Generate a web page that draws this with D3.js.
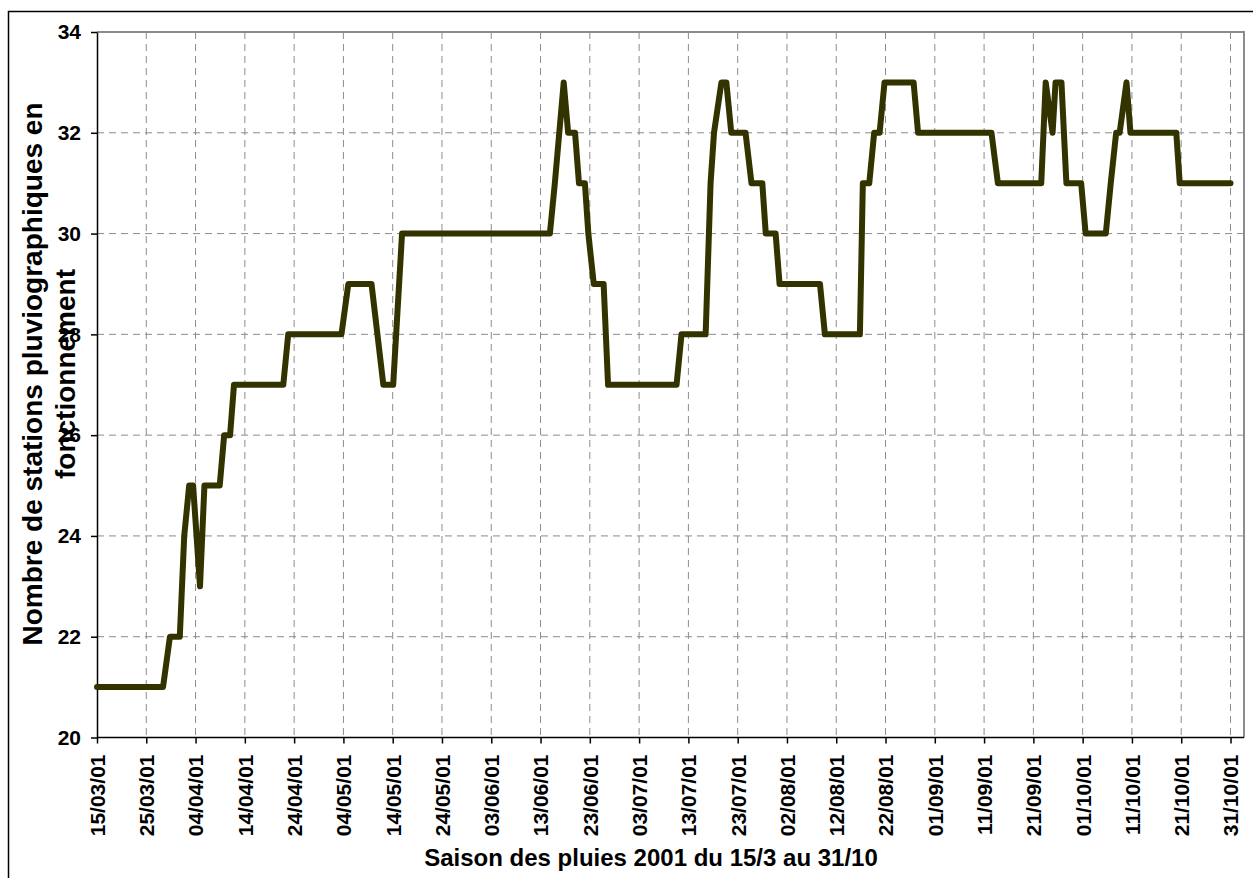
<!DOCTYPE html>
<html lang="fr">
<head>
<meta charset="utf-8">
<script src="https://d3js.org/d3.v7.min.js"></script>
<style>
  body { margin: 0; background: #fff; }
  text { font-family: "Liberation Sans", Arial, sans-serif; font-weight: bold; fill: #000; }
</style>
</head>
<body>
<script>
// days since 15/03/2001 and number of working stations
const dayOffsets = [0, 13.4, 14.8, 16.8, 17.7, 18.7, 19.5, 20.9, 21.8, 24.9,
  25.8, 27.0, 27.8, 37.8, 38.8, 49.6, 51.0, 55.7, 58.1, 60.1,
  61.9, 91.9, 92.9, 94.7, 95.6, 97.0, 97.8, 99.0, 99.7, 100.8,
  102.8, 103.7, 117.6, 118.6, 123.5, 124.5, 125.2, 126.7, 127.7, 128.7,
  131.6, 132.8, 135.0, 135.7, 137.7, 138.5, 146.7, 147.7, 154.8, 155.4,
  156.7, 157.7, 158.8, 159.8, 165.7, 166.6, 181.5, 182.8, 191.6, 192.5,
  193.9, 194.5, 195.7, 196.7, 199.7, 200.6, 204.7, 205.7, 206.8, 207.5,
  208.9, 209.7, 219.0, 219.7, 230];
const stations = [21, 21, 22, 22, 24, 25, 25, 23, 25, 25,
  26, 26, 27, 27, 28, 28, 29, 29, 27, 27,
  30, 30, 31, 33, 32, 32, 31, 31, 30, 29,
  29, 27, 27, 28, 28, 31, 32, 33, 33, 32,
  32, 31, 31, 30, 30, 29, 29, 28, 28, 31,
  31, 32, 32, 33, 33, 32, 32, 31, 31, 33,
  32, 33, 33, 31, 31, 30, 30, 31, 32, 32,
  33, 32, 32, 31, 31];
const tickDays = [0, 10, 20, 30, 40, 50, 60, 70, 80, 90, 100, 110, 120,
  130, 140, 150, 160, 170, 180, 190, 200, 210, 220, 230];
const yTicks = [20, 22, 24, 26, 28, 30, 32, 34];

const xTitle = "Saison des pluies 2001 du 15/3 au 31/10";
const yTitle = ["Nombre de stations pluviographiques en", "fonctionnement"];

const start = Date.UTC(2001, 2, 15);
const toDate = d => new Date(start + d * 864e5);

const width = 1253, height = 878;
const plot = {left: 97, top: 32, right: 1244, bottom: 737.5};

const svg = d3.select("body").append("svg")
  .attr("width", width)
  .attr("height", height);

// outer chart frame
svg.append("rect")
  .attr("x", 8.5).attr("y", 11.5)
  .attr("width", 1260).attr("height", 900)
  .attr("fill", "#fff").attr("stroke", "#000").attr("stroke-width", 1.5);

const x = d3.scaleUtc()
  .domain([toDate(0), toDate(230)])
  .range([plot.left, 1230.5]);

const y = d3.scaleLinear()
  .domain([20, 34])
  .range([plot.bottom, plot.top]);

// grid
svg.append("g").selectAll("line")
  .data(yTicks.filter(v => v > 20 && v < 34))
  .join("line")
  .attr("x1", plot.left).attr("x2", plot.right)
  .attr("y1", d => y(d)).attr("y2", d => y(d))
  .attr("stroke", "#8c8c8c").attr("stroke-width", 1)
  .attr("stroke-dasharray", "7,5");

svg.append("g").selectAll("line")
  .data(tickDays.slice(1))
  .join("line")
  .attr("x1", d => x(toDate(d))).attr("x2", d => x(toDate(d)))
  .attr("y1", plot.top).attr("y2", plot.bottom)
  .attr("stroke", "#8c8c8c").attr("stroke-width", 1)
  .attr("stroke-dasharray", "7,5");

// plot area border (grey) on top and right
svg.append("path")
  .attr("d", `M${plot.left},${plot.top}H${plot.right}V${plot.bottom}`)
  .attr("fill", "none").attr("stroke", "#8c8c8c").attr("stroke-width", 2);

// y axis
const yAxis = svg.append("g")
  .attr("transform", `translate(${plot.left},0)`)
  .call(d3.axisLeft(y).tickValues(yTicks).tickSize(6).tickSizeOuter(0).tickPadding(10));
yAxis.select(".domain").attr("stroke", "#000").attr("stroke-width", 1.5);
yAxis.selectAll(".tick line").attr("stroke", "#000").attr("stroke-width", 1.5);
yAxis.selectAll("text").attr("font-size", 21).attr("font-family", null);

// x axis
const xAxis = svg.append("g")
  .attr("transform", `translate(0,${plot.bottom})`)
  .call(d3.axisBottom(x)
    .tickValues(tickDays.map(toDate))
    .tickFormat(d3.utcFormat("%d/%m/%y"))
    .tickSize(6).tickSizeOuter(0));
xAxis.select(".domain").remove();
xAxis.selectAll(".tick line").attr("stroke", "#000").attr("stroke-width", 1.5);
xAxis.selectAll("text")
  .attr("font-size", 21)
  .attr("font-family", null)
  .attr("text-anchor", "end")
  .attr("dy", "0.35em")
  .attr("transform", "translate(0,17) rotate(-90)")
  .attr("x", 0).attr("y", 0);

svg.append("line")
  .attr("x1", plot.left).attr("x2", plot.right)
  .attr("y1", plot.bottom).attr("y2", plot.bottom)
  .attr("stroke", "#000").attr("stroke-width", 1.5);

// data line
const line = d3.line()
  .x((d, i) => x(toDate(dayOffsets[i])))
  .y(d => y(d));

svg.append("path")
  .datum(stations)
  .attr("fill", "none")
  .attr("stroke", "#333300")
  .attr("stroke-width", 6)
  .attr("stroke-linejoin", "round")
  .attr("stroke-linecap", "round")
  .attr("d", line);

// titles
svg.append("text")
  .attr("x", 651).attr("y", 866)
  .attr("text-anchor", "middle")
  .attr("font-size", 24)
  .text(xTitle);

svg.append("g")
  .attr("transform", "translate(0,374) rotate(-90)")
  .selectAll("text")
  .data(yTitle)
  .join("text")
  .attr("x", 0)
  .attr("y", (d, i) => 42 + i * 33)
  .attr("text-anchor", "middle")
  .attr("font-size", 28)
  .text(d => d);
</script>
</body>
</html>
